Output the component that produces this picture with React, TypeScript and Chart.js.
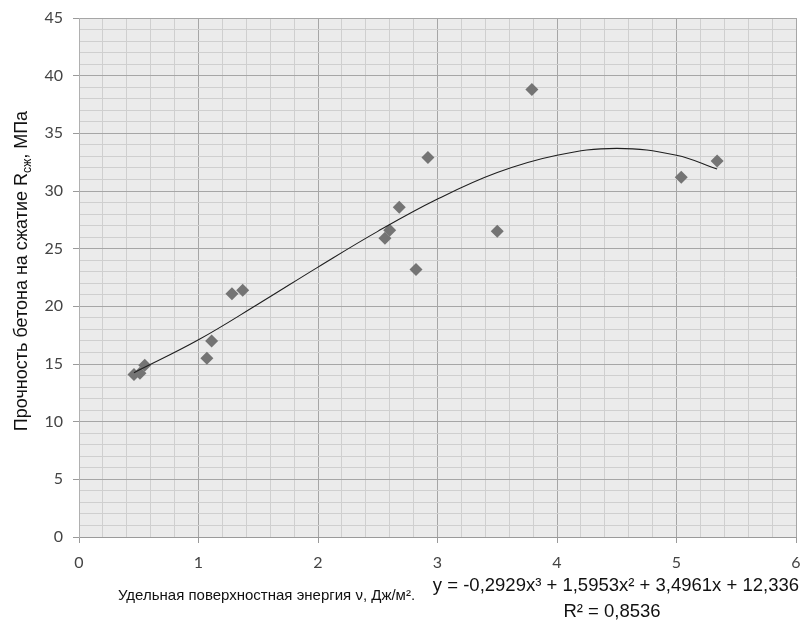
import React, { useEffect, useRef } from 'react';
import { Chart, registerables } from 'chart.js';

Chart.register(...registerables);

// Measured points: specific surface energy (x) vs compressive strength (y)
const energyX = [0.46, 0.51, 0.55, 1.07, 1.11, 1.28, 1.37, 2.56, 2.60, 2.68, 2.82, 2.92, 3.50, 3.79, 5.04, 5.34];
const strengthY = [14.1, 14.2, 14.9, 15.5, 17.0, 21.1, 21.4, 25.9, 26.6, 28.6, 23.2, 32.9, 26.5, 38.8, 31.2, 32.6];

// Trend line
const trendX = [0.46, 1, 1.5, 2, 2.5, 3, 3.5, 4, 4.5, 5, 5.34];
const trendY = [14.25, 17.1, 20.2, 23.4, 26.5, 29.3, 31.6, 33.1, 33.7, 33.1, 31.9];

const xTickLabels = ['0', '1', '2', '3', '4', '5', '6'];
const yTickLabels = ['0', '5', '10', '15', '20', '25', '30', '35', '40', '45'];

const yTitleMain = 'Прочность бетона на сжатие R';
const yTitleSub = 'сж';
const yTitleTail = ', МПа';
const xTitle = 'Удельная поверхностная энергия ν, Дж/м².';
const equationText = 'y = -0,2929x³ + 1,5953x² + 3,4961x + 12,336';
const rSquaredText = 'R² = 0,8536';

const isInt = (v: number) => Math.abs(v - Math.round(v)) < 1e-6;
const isFive = (v: number) => isInt(v) && Math.round(v) % 5 === 0;

const TEXT_FONT = '"Liberation Sans", Arial, sans-serif';

const decorPlugin = {
  id: 'decor',
  beforeDraw(chart: any) {
    const { ctx, chartArea: a } = chart;
    ctx.save();
    ctx.fillStyle = '#ebebeb';
    ctx.fillRect(a.left, a.top, a.right - a.left, a.bottom - a.top);
    ctx.restore();
  },
  afterDraw(chart: any) {
    const { ctx } = chart;
    ctx.save();
    ctx.fillStyle = '#111';
    // Y title (rotated, with subscript)
    const mainFont = `18px ${TEXT_FONT}`;
    const subFont = `12px ${TEXT_FONT}`;
    ctx.font = mainFont;
    const w1 = ctx.measureText(yTitleMain).width;
    const w3 = ctx.measureText(yTitleTail).width;
    ctx.font = subFont;
    const w2 = ctx.measureText(yTitleSub).width;
    const total = w1 + w2 + w3;
    ctx.translate(27, 271);
    ctx.rotate(-Math.PI / 2);
    ctx.textBaseline = 'alphabetic';
    ctx.textAlign = 'left';
    let x0 = -total / 2;
    ctx.font = mainFont;
    ctx.fillText(yTitleMain, x0, 0);
    x0 += w1;
    ctx.font = subFont;
    ctx.fillText(yTitleSub, x0, 4);
    x0 += w2;
    ctx.font = mainFont;
    ctx.fillText(yTitleTail, x0, 0);
    ctx.setTransform(1, 0, 0, 1, 0, 0);

    ctx.textBaseline = 'alphabetic';
    // X title
    ctx.font = `15px ${TEXT_FONT}`;
    ctx.textAlign = 'left';
    ctx.fillText(xTitle, 118, 600);

    // Trend equation
    ctx.font = `18.5px ${TEXT_FONT}`;
    ctx.textAlign = 'right';
    ctx.fillText(equationText, 799, 591);
    ctx.textAlign = 'center';
    ctx.fillText(rSquaredText, 612, 617);
    ctx.restore();
  },
};

export default function App() {
  const canvasRef = useRef<HTMLCanvasElement | null>(null);

  useEffect(() => {
    if (!canvasRef.current) return;
    const chart = new Chart(canvasRef.current, {
      type: 'scatter',
      data: {
        datasets: [
          {
            label: 'trend',
            type: 'line',
            data: trendX.map((x, i) => ({ x, y: trendY[i] })),
            borderColor: '#1e1e1e',
            borderWidth: 1.1,
            pointRadius: 0,
            tension: 0.4,
            fill: false,
          } as any,
          {
            label: 'data',
            data: energyX.map((x, i) => ({ x, y: strengthY[i] })),
            pointStyle: 'rectRot',
            pointRadius: 6.5,
            backgroundColor: '#747474',
            borderWidth: 0,
          },
        ],
      },
      options: {
        animation: false,
        responsive: false,
        layout: { padding: { left: 0, right: 12, top: 18, bottom: 0 } },
        plugins: { legend: { display: false }, tooltip: { enabled: false } },
        scales: {
          x: {
            type: 'linear',
            min: 0,
            max: 6,
            afterFit: (scale: any) => {
              scale.height = 83;
              scale.paddingLeft = 0;
              scale.paddingRight = 0;
            },
            border: { color: '#9a9a9a', width: 1 },
            grid: {
              color: (c: any) => (c.tick && isInt(c.tick.value) ? '#a6a6a6' : '#cfcfcf'),
              tickColor: (c: any) => (c.tick && isInt(c.tick.value) ? '#9a9a9a' : 'rgba(0,0,0,0)'),
              tickLength: 6,
              lineWidth: 1,
            },
            ticks: {
              stepSize: 0.2,
              autoSkip: false,
              maxRotation: 0,
              padding: 10,
              color: '#444',
              font: { family: 'Lato', size: 16 },
              callback: (v: any) => (isInt(Number(v)) ? xTickLabels[Math.round(Number(v))] : ''),
            },
          },
          y: {
            type: 'linear',
            min: 0,
            max: 45,
            afterFit: (scale: any) => {
              scale.width = 79;
              scale.paddingTop = 0;
              scale.paddingBottom = 0;
            },
            border: { color: '#b0b0b0', width: 1 },
            grid: {
              color: (c: any) => (c.tick && isFive(c.tick.value) ? '#a6a6a6' : '#cfcfcf'),
              tickColor: (c: any) => (c.tick && isFive(c.tick.value) ? '#9a9a9a' : 'rgba(0,0,0,0)'),
              tickLength: 6,
              lineWidth: 1,
            },
            ticks: {
              stepSize: 1,
              autoSkip: false,
              padding: 10,
              color: '#444',
              font: { family: 'Lato', size: 16 },
              callback: (v: any) => (isFive(Number(v)) ? yTickLabels[Math.round(Number(v)) / 5] : ''),
            },
          },
        },
      },
      plugins: [decorPlugin],
    });
    return () => chart.destroy();
  }, []);

  return (
    <div style={{ position: 'absolute', left: 0, top: 0, width: 808, height: 620, background: '#fff' }}>
      <canvas ref={canvasRef} width={808} height={620} />
    </div>
  );
}
